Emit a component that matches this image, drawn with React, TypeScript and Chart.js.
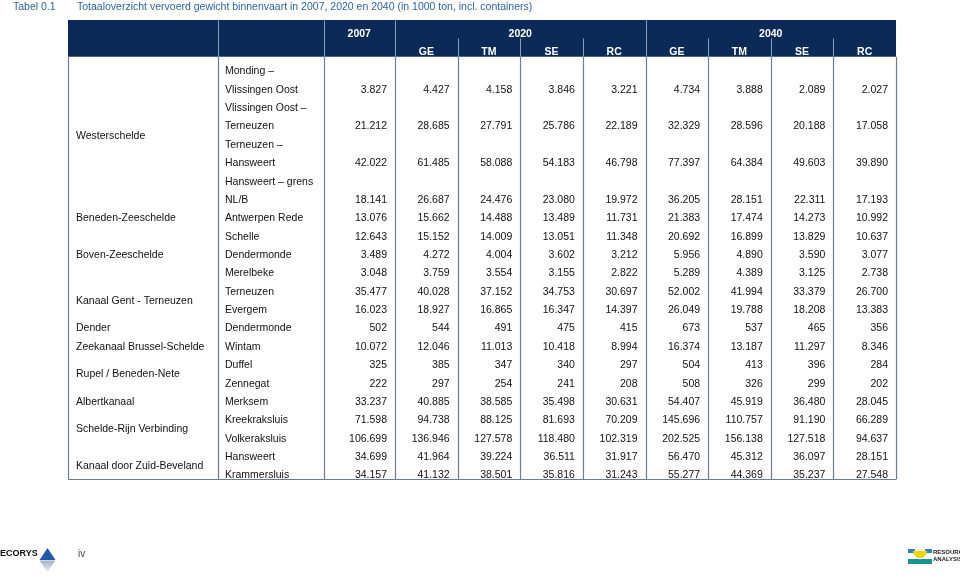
import React, { useEffect, useRef } from 'react';
import { Chart, registerables } from 'chart.js';

Chart.register(...registerables);

// ---------- DATA ----------
const tableNumber = 'Tabel 0.1';
const tableTitle =
  'Totaaloverzicht vervoerd gewicht binnenvaart in 2007, 2020 en 2040 (in 1000 ton, incl. containers)';

const years = ['2007', '2020', '2040'];
const scenarios = ['GE', 'TM', 'SE', 'RC'];

const waterways = [
  'Westerschelde',
  'Beneden-Zeeschelde',
  'Boven-Zeeschelde',
  'Kanaal Gent - Terneuzen',
  'Dender',
  'Zeekanaal Brussel-Schelde',
  'Rupel / Beneden-Nete',
  'Albertkanaal',
  'Schelde-Rijn Verbinding',
  'Kanaal door Zuid-Beveland',
];
const waterwayRowCounts = [4, 2, 2, 2, 1, 1, 2, 1, 2, 2];

const locations: string[][] = [
  ['Monding –', 'Vlissingen Oost'],
  ['Vlissingen Oost –', 'Terneuzen'],
  ['Terneuzen –', 'Hansweert'],
  ['Hansweert – grens', 'NL/B'],
  ['Antwerpen Rede'],
  ['Schelle'],
  ['Dendermonde'],
  ['Merelbeke'],
  ['Terneuzen'],
  ['Evergem'],
  ['Dendermonde'],
  ['Wintam'],
  ['Duffel'],
  ['Zennegat'],
  ['Merksem'],
  ['Kreekraksluis'],
  ['Volkeraksluis'],
  ['Hansweert'],
  ['Krammersluis'],
];

// values in 1000 ton
const values2007 = [3827, 21212, 42022, 18141, 13076, 12643, 3489, 3048, 35477, 16023, 502, 10072, 325, 222, 33237, 71598, 106699, 34699, 34157];
const values2020GE = [4427, 28685, 61485, 26687, 15662, 15152, 4272, 3759, 40028, 18927, 544, 12046, 385, 297, 40885, 94738, 136946, 41964, 41132];
const values2020TM = [4158, 27791, 58088, 24476, 14488, 14009, 4004, 3554, 37152, 16865, 491, 11013, 347, 254, 38585, 88125, 127578, 39224, 38501];
const values2020SE = [3846, 25786, 54183, 23080, 13489, 13051, 3602, 3155, 34753, 16347, 475, 10418, 340, 241, 35498, 81693, 118480, 36511, 35816];
const values2020RC = [3221, 22189, 46798, 19972, 11731, 11348, 3212, 2822, 30697, 14397, 415, 8994, 297, 208, 30631, 70209, 102319, 31917, 31243];
const values2040GE = [4734, 32329, 77397, 36205, 21383, 20692, 5956, 5289, 52002, 26049, 673, 16374, 504, 508, 54407, 145696, 202525, 56470, 55277];
const values2040TM = [3888, 28596, 64384, 28151, 17474, 16899, 4890, 4389, 41994, 19788, 537, 13187, 413, 326, 45919, 110757, 156138, 45312, 44369];
const values2040SE = [2089, 20188, 49603, 22311, 14273, 13829, 3590, 3125, 33379, 18208, 465, 11297, 396, 299, 36480, 91190, 127518, 36097, 35237];
const values2040RC = [2027, 17058, 39890, 17193, 10992, 10637, 3077, 2738, 26700, 13383, 356, 8346, 284, 202, 28045, 66289, 94637, 28151, 27548];

const valueColumns = [
  values2007,
  values2020GE, values2020TM, values2020SE, values2020RC,
  values2040GE, values2040TM, values2040SE, values2040RC,
];

const pageNumber = 'iv';

// ---------- LAYOUT (not data) ----------
const COL_WIDTHS = [150, 105.5, 71.5, 62.625, 62.625, 62.625, 62.625, 62.625, 62.625, 62.625, 62.625];
const COL_EDGES = COL_WIDTHS.reduce((acc: number[], w) => { acc.push(acc[acc.length - 1] + w); return acc; }, [0]);
const TABLE_W = COL_EDGES[COL_EDGES.length - 1];
const TOTAL_LINES = locations.reduce((s, l) => s + l.length, 0);
const HEADER_ROWS = 2;
const topAlignedWaterways = new Set(['Beneden-Zeeschelde', 'Boven-Zeeschelde']);

const FONT = '"Liberation Sans", Arial, Helvetica, sans-serif';
const HEADER_BG = '#0b2a57';
const HEADER_SEP = '#8e9cb2';
const GRID = '#6f7c8b';
const TITLE_COLOR = '#2f63a6';
const BODY_OFF = 5.6;
const HEAD_OFF = 4.8;

const fmt = (n: number) => String(n).replace(/\B(?=(\d{3})+(?!\d))/g, '.');

const tablePlugin = {
  id: 'tableDraw',
  afterDraw(chart: any) {
    const ctx: CanvasRenderingContext2D = chart.ctx;
    const xs = chart.scales.x;
    const ys = chart.scales.y;
    const X = (v: number) => xs.getPixelForValue(v);
    const Y = (v: number) => ys.getPixelForValue(v);

    ctx.save();

    // title
    ctx.fillStyle = TITLE_COLOR;
    ctx.font = `10.5px ${FONT}`;
    ctx.textBaseline = 'alphabetic';
    ctx.textAlign = 'left';
    ctx.fillText(tableNumber, 13, 10);
    ctx.fillText(tableTitle, 77, 10);

    // header background
    ctx.fillStyle = HEADER_BG;
    ctx.fillRect(X(0), Y(-HEADER_ROWS), X(TABLE_W) - X(0), Y(0) - Y(-HEADER_ROWS));

    // header separators
    ctx.strokeStyle = HEADER_SEP;
    ctx.lineWidth = 1;
    const fullSeps = [1, 2, 3, 7];
    const subSeps = [4, 5, 6, 8, 9, 10];
    fullSeps.forEach((i) => {
      const x = Math.round(X(COL_EDGES[i])) + 0.5;
      ctx.beginPath(); ctx.moveTo(x, Y(-2)); ctx.lineTo(x, Y(0)); ctx.stroke();
    });
    subSeps.forEach((i) => {
      const x = Math.round(X(COL_EDGES[i])) + 0.5;
      ctx.beginPath(); ctx.moveTo(x, Y(-1)); ctx.lineTo(x, Y(0)); ctx.stroke();
    });

    // header text
    ctx.fillStyle = '#ffffff';
    ctx.font = `bold 10.5px ${FONT}`;
    ctx.textAlign = 'center';
    ctx.textBaseline = 'middle';
    const yearSpans = [[2, 3], [3, 7], [7, 11]];
    years.forEach((yr, i) => {
      const [a, b] = yearSpans[i];
      ctx.fillText(yr, (X(COL_EDGES[a]) + X(COL_EDGES[b])) / 2, Y(-1.5) + HEAD_OFF);
    });
    for (let k = 0; k < 8; k++) {
      const c = 3 + k;
      ctx.fillText(scenarios[k % 4], (X(COL_EDGES[c]) + X(COL_EDGES[c + 1])) / 2, Y(-0.5) + HEAD_OFF);
    }

    // body grid
    ctx.strokeStyle = GRID;
    ctx.lineWidth = 1.2;
    COL_EDGES.forEach((e) => {
      const x = Math.round(X(e)) + 0.5;
      ctx.beginPath(); ctx.moveTo(x, Y(0)); ctx.lineTo(x, Y(TOTAL_LINES)); ctx.stroke();
    });
    ctx.beginPath();
    const yb = Math.round(Y(TOTAL_LINES)) + 0.5;
    ctx.moveTo(X(0), yb); ctx.lineTo(X(TABLE_W) + 0.5, yb); ctx.stroke();

    // body text
    ctx.fillStyle = '#111111';
    ctx.font = `10.5px ${FONT}`;
    ctx.textBaseline = 'middle';

    const rowStart: number[] = [];
    let line = 0;
    locations.forEach((l) => { rowStart.push(line); line += l.length; });

    // waterways
    let r = 0;
    waterways.forEach((w, gi) => {
      const n = waterwayRowCounts[gi];
      const first = rowStart[r];
      const last = rowStart[r + n - 1] + locations[r + n - 1].length;
      const lv = topAlignedWaterways.has(w) ? first + 0.5 : (first + last) / 2;
      ctx.textAlign = 'left';
      ctx.fillText(w, X(COL_EDGES[0]) + 8, Y(lv) + BODY_OFF);
      r += n;
    });

    // locations and values
    locations.forEach((lines, ri) => {
      ctx.textAlign = 'left';
      lines.forEach((t, li) => {
        ctx.fillText(t, X(COL_EDGES[1]) + 7, Y(rowStart[ri] + li + 0.5) + BODY_OFF);
      });
      const vl = rowStart[ri] + lines.length - 0.5;
      ctx.textAlign = 'right';
      valueColumns.forEach((col, ci) => {
        ctx.fillText(fmt(col[ri]), X(COL_EDGES[ci + 3]) - 8, Y(vl) + BODY_OFF);
      });
    });

    // footer: ECORYS logo
    ctx.textAlign = 'left';
    ctx.textBaseline = 'alphabetic';
    ctx.fillStyle = '#111111';
    ctx.font = `bold 9px ${FONT}`;
    ctx.fillText('ECORYS', 0, 556);
    ctx.fillStyle = '#1f5aa8';
    ctx.beginPath(); ctx.moveTo(47.5, 548); ctx.lineTo(55.5, 560); ctx.lineTo(39.5, 560); ctx.closePath(); ctx.fill();
    const g = ctx.createLinearGradient(0, 560, 0, 572);
    g.addColorStop(0, '#9fb0c4'); g.addColorStop(1, '#e8edf3');
    ctx.fillStyle = g;
    ctx.beginPath(); ctx.moveTo(39.5, 560.5); ctx.lineTo(55.5, 560.5); ctx.lineTo(47.5, 572); ctx.closePath(); ctx.fill();

    // page number
    ctx.fillStyle = '#444444';
    ctx.font = `10px ${FONT}`;
    ctx.fillText(pageNumber, 78, 557);

    // footer: Resource Analysis logo
    ctx.fillStyle = '#2f7fc8';
    ctx.fillRect(908, 549, 7, 4);
    ctx.fillRect(925, 549, 7, 4);
    ctx.fillStyle = '#f3d400';
    ctx.beginPath(); ctx.arc(920, 551, 7, 0, Math.PI); ctx.closePath(); ctx.fill();
    ctx.fillStyle = '#15998c';
    ctx.fillRect(908, 559, 24, 5);
    ctx.fillStyle = '#1a1a1a';
    ctx.font = `bold 6px ${FONT}`;
    ctx.fillText('RESOURCE', 933, 554);
    ctx.fillText('ANALYSIS', 933, 561);

    ctx.restore();
  },
};

export default function App() {
  const ref = useRef<HTMLCanvasElement | null>(null);
  useEffect(() => {
    if (!ref.current) return;
    const chart = new Chart(ref.current, {
      type: 'scatter',
      data: { datasets: [] },
      options: {
        animation: false,
        responsive: true,
        maintainAspectRatio: false,
        devicePixelRatio: 1,
        layout: { padding: { left: 68, top: 20, right: 960 - 68 - TABLE_W, bottom: 577 - 479 } },
        scales: {
          x: { type: 'linear', min: 0, max: TABLE_W, display: false },
          y: { type: 'linear', min: -HEADER_ROWS, max: TOTAL_LINES, reverse: true, display: false },
        },
        plugins: { legend: { display: false }, tooltip: { enabled: false }, title: { display: false } },
      },
      plugins: [tablePlugin],
    });
    return () => chart.destroy();
  }, []);
  return (
    <div style={{ position: 'fixed', left: 0, top: 0, width: 960, height: 577, background: '#ffffff' }}>
      <canvas ref={ref} />
    </div>
  );
}
